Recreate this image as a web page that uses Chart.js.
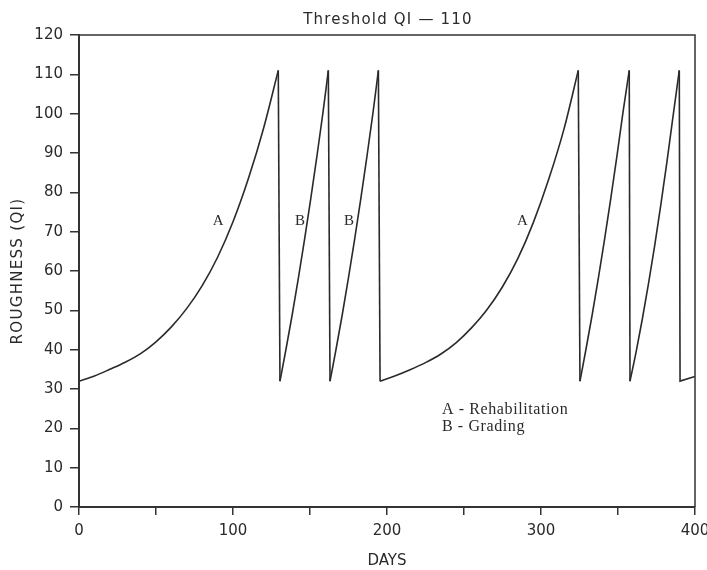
<!DOCTYPE html>
<html>
<head>
<meta charset="utf-8">
<script src="https://cdn.jsdelivr.net/npm/chart.js@4.4.0/dist/chart.umd.min.js"></script>
<style>
  html, body { margin: 0; padding: 0; background: #fff; }
</style>
</head>
<body>
<canvas id="roughChart" width="707" height="570"></canvas>
<script>
// roughness (QI), one array per rising stretch
const riseDays = [
    [0, 10, 20, 30, 40, 50, 60, 70, 80, 90, 100, 110, 120, 129.4],
    [130.5, 134.5, 138.5, 142.5, 146.5, 150.5, 154.5, 158.5, 161.9],
    [163, 167, 171, 175, 179, 183, 187, 191, 194.4],
    [195.5, 205, 215, 225, 235, 245, 255, 265, 275, 285, 295, 305, 315, 324.2],
    [325.3, 329.3, 333.3, 337.3, 341.3, 345.3, 349.3, 353.3, 357.3],
    [357.8, 361.8, 365.8, 369.8, 373.8, 377.8, 381.8, 385.8, 389.8]
];
const riseQI = [
    [32, 33.3, 35, 36.8, 39, 42, 45.8, 50.5, 56.3, 63.5, 72.5, 83.5, 96.5, 111],
    [32, 40.3, 49, 58.3, 68.1, 78.4, 89.2, 100.5, 111],
    [32, 40.3, 49, 58.3, 68.1, 78.4, 89.2, 100.5, 111],
    [32, 33.3, 34.9, 36.7, 38.9, 41.8, 45.6, 50.2, 56, 63.2, 72.3, 83.3, 96.2, 111],
    [32, 40.3, 49, 58.3, 68.1, 78.4, 89.2, 100.5, 111],
    [32, 39.5, 47.8, 56.8, 66.4, 76.8, 87.8, 99.5, 111]
];

// maintenance resets (vertical drops) and the short tail at the end
const dropDays = [[129.4, 130.5], [161.9, 163], [194.4, 195.5], [324.2, 325.3], [357.3, 357.8], [389.8, 390.3, 400]];
const dropQI = [[111, 32], [111, 32], [111, 32], [111, 32], [111, 32], [111, 32, 33.2]];

const curveLetters = ['A', 'B', 'B', 'A'];
const keyLines = ['A - Rehabilitation', 'B - Grading'];
const chartTitle = 'Threshold QI \u2014 110';
const yTitle = 'ROUGHNESS (QI)';

const ink = '#2a2a2a';
const sansFont = { family: 'DejaVu Sans', size: 15 };

function toPoints(days, vals) {
    return days.map((d, i) => ({ x: d, y: vals[i] }));
}

const datasets = [];
riseDays.forEach((days, i) => {
    datasets.push({
        data: toPoints(days, riseQI[i]),
        cubicInterpolationMode: 'monotone',
        borderColor: ink,
        borderWidth: 1.6,
        pointRadius: 0,
        fill: false
    });
});
dropDays.forEach((days, i) => {
    datasets.push({
        data: toPoints(days, dropQI[i]),
        tension: 0,
        borderColor: ink,
        borderWidth: 1.6,
        pointRadius: 0,
        fill: false
    });
});

// box top/right, titles, curve letters and the key
const paperFrame = {
    id: 'paperFrame',
    afterDraw(chart) {
        const { ctx, chartArea: a, scales: { x, y } } = chart;
        ctx.save();
        ctx.strokeStyle = '#333';
        ctx.lineWidth = 1.5;
        ctx.beginPath();
        ctx.moveTo(a.left, a.top);
        ctx.lineTo(a.right, a.top);
        ctx.lineTo(a.right, a.bottom);
        ctx.stroke();

        ctx.fillStyle = ink;
        ctx.font = '15px "DejaVu Sans"';
        ctx.textAlign = 'center';
        ctx.textBaseline = 'alphabetic';
        ctx.letterSpacing = '1.2px';
        ctx.fillText(chartTitle, (a.left + a.right) / 2 + 1, 24);

        ctx.save();
        ctx.translate(22, (a.top + a.bottom) / 2);
        ctx.rotate(-Math.PI / 2);
        ctx.letterSpacing = '1.3px';
        ctx.fillText(yTitle, 0, 0);
        ctx.restore();

        ctx.letterSpacing = '0px';
        const letterDays = [90.3, 143.5, 175.3, 288];
        ctx.font = '15px "Liberation Serif"';
        curveLetters.forEach((t, i) => {
            ctx.fillText(t, x.getPixelForValue(letterDays[i]), y.getPixelForValue(71.8));
        });

        ctx.font = '16px "Liberation Serif"';
        ctx.textAlign = 'left';
        ctx.letterSpacing = '0.6px';
        ctx.fillText(keyLines[0], x.getPixelForValue(235.7), y.getPixelForValue(23.7));
        ctx.fillText(keyLines[1], x.getPixelForValue(235.7), y.getPixelForValue(19.3));
        ctx.restore();
    }
};

const ctx = document.getElementById('roughChart').getContext('2d');
new Chart(ctx, {
    type: 'line',
    data: { datasets: datasets },
    plugins: [paperFrame],
    options: {
        responsive: false,
        animation: false,
        layout: { padding: { left: 0, right: 12, top: 35, bottom: 0 } },
        plugins: {
            legend: { display: false },
            tooltip: { enabled: false }
        },
        scales: {
            x: {
                type: 'linear',
                min: 0,
                max: 400,
                ticks: {
                    stepSize: 50,
                    autoSkip: false,
                    maxRotation: 0,
                    padding: 7,
                    color: ink,
                    font: sansFont,
                    callback: v => (v % 100 === 0 ? v : '')
                },
                grid: { drawOnChartArea: false, drawTicks: true, tickLength: 8, color: '#333', lineWidth: 1.5 },
                border: { display: true, color: '#333', width: 2 },
                title: { display: true, text: 'DAYS', color: ink, font: sansFont, padding: { top: 0, bottom: 0 } },
                afterFit: s => { s.height = 63; s.paddingLeft = 0; s.paddingRight = 0; }
            },
            y: {
                min: 0,
                max: 120,
                ticks: { stepSize: 10, padding: 7, color: ink, font: sansFont },
                grid: { drawOnChartArea: false, drawTicks: true, tickLength: 9, color: '#333', lineWidth: 1.5 },
                border: { display: true, color: '#333', width: 2 },
                afterFit: s => { s.width = 79; }
            }
        }
    }
});
</script>
</body>
</html>
